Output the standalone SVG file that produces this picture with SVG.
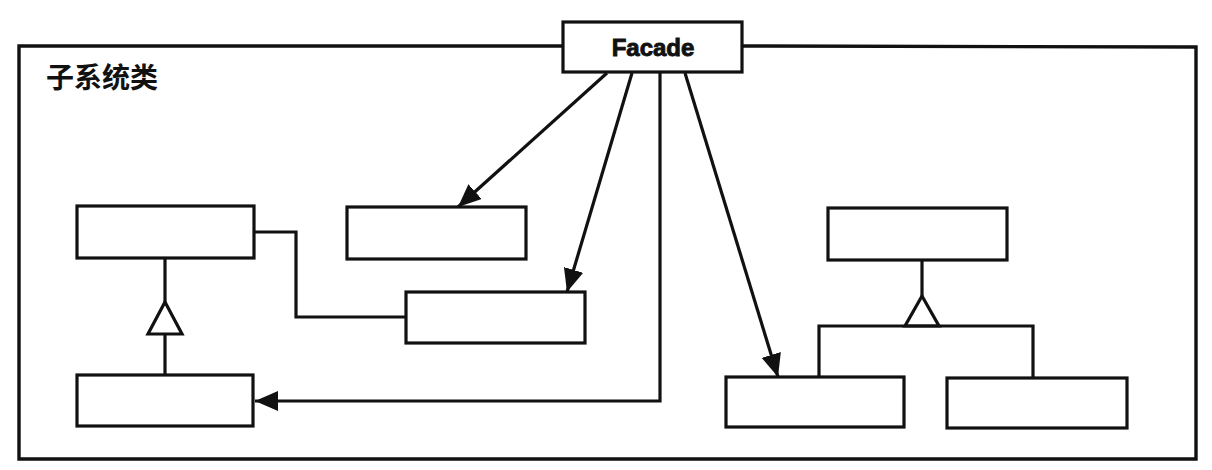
<svg xmlns="http://www.w3.org/2000/svg" width="1212" height="470" viewBox="0 0 1212 470">
  <style>
    .frame { fill: none; stroke: #111; stroke-width: 3.4; }
    .box { fill: #fff; stroke: #111; stroke-width: 3.2; }
    .line { fill: none; stroke: #111; stroke-width: 3.2; }
    .tri { fill: #fff; stroke: #111; stroke-width: 3.2; stroke-linejoin: miter; }
    .title { font-family: "Liberation Sans", Arial, sans-serif; font-weight: 700; font-size: 24px; fill: #111; stroke: #111; stroke-width: 0.9; }
    .label { font-family: "Noto Sans CJK SC", "Noto Sans", sans-serif; font-weight: 700; font-size: 28px; fill: #111; }
  </style>
  <defs>
    <marker id="arrow" markerUnits="userSpaceOnUse" markerWidth="26" markerHeight="22" refX="23" refY="10" orient="auto">
      <path d="M0,0 L23,10 L0,20 Z" fill="#111"/>
    </marker>
  </defs>

  <rect width="1212" height="470" fill="#fff"/>

  <!-- subsystem frame, interrupted by the Facade box on its top edge -->
  <g id="subsystem">
    <path class="frame" d="M563,46 L19,46 L19,459 L1196,459 L1196,47 L742,46"/>
    <text class="label" x="46" y="88">子系统类</text>
  </g>

  <g id="facade">
    <rect class="box" x="563" y="22" width="179" height="50"/>
    <text class="title" x="653" y="56" text-anchor="middle">Facade</text>
  </g>

  <g id="class-a">
    <rect class="box" x="77" y="206" width="177" height="52"/>
  </g>
  <g id="class-b">
    <rect class="box" x="77" y="375" width="176" height="51"/>
  </g>
  <g id="class-c">
    <rect class="box" x="347" y="207" width="179" height="52"/>
  </g>
  <g id="class-d">
    <rect class="box" x="406" y="292" width="179" height="51"/>
  </g>
  <g id="class-e">
    <rect class="box" x="828" y="208" width="179" height="52"/>
  </g>
  <g id="class-f">
    <rect class="box" x="726" y="377" width="178" height="50"/>
  </g>
  <g id="class-g">
    <rect class="box" x="947" y="378" width="180" height="50"/>
  </g>

  <g id="connectors">
    <!-- Facade dependencies -->
    <line class="line" x1="607" y1="73" x2="458" y2="207" marker-end="url(#arrow)"/>
    <line class="line" x1="632" y1="73" x2="567" y2="292" marker-end="url(#arrow)"/>
    <path class="line" d="M660,73 L660,401 L255,401" marker-end="url(#arrow)"/>
    <line class="line" x1="685" y1="73" x2="778" y2="377" marker-end="url(#arrow)"/>

    <!-- association between class-a and class-d -->
    <path class="line" d="M254,232 L296,232 L296,317 L406,317"/>

    <!-- generalization: class-b to class-a -->
    <line class="line" x1="165" y1="258" x2="165" y2="302"/>
    <line class="line" x1="165" y1="334" x2="165" y2="375"/>
    <polygon class="tri" points="165,302 182,334 148,334"/>

    <!-- generalization: class-f, class-g to class-e -->
    <line class="line" x1="922" y1="260" x2="922" y2="296"/>
    <polygon class="tri" points="922,296 939,326 905,326"/>
    <path class="line" d="M819,377 L819,326 L1033,326 L1033,378"/>
  </g>
</svg>
